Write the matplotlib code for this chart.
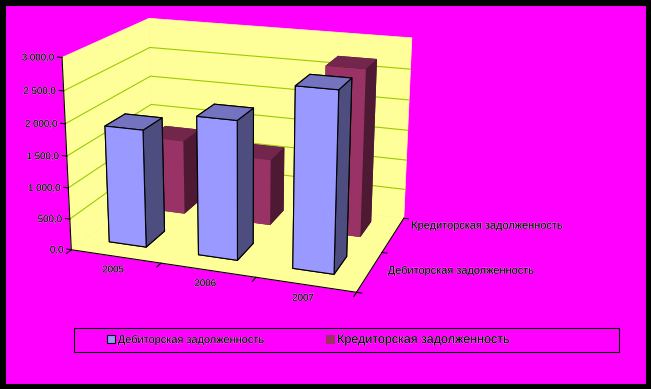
"""
plot.py

3D column chart of receivables and payables by year.
"""

import matplotlib

matplotlib.use("Agg")

import matplotlib.patheffects as pe
import matplotlib.pyplot as plt
from matplotlib.patches import Patch, Rectangle
from mpl_toolkits.mplot3d import proj3d
from mpl_toolkits.mplot3d.art3d import Poly3DCollection

years = ["2005", "2006", "2007"]
series_names = ["Дебиторская задолженность", "Кредиторская задолженность"]
debitor = [1870, 2170, 2760]
creditor = [1250, 1100, 2700]
z_ticks = [0, 500, 1000, 1500, 2000, 2500, 3000]
z_labels = ["0,0", "500,0", "1 000,0", "1 500,0", "2 000,0", "2 500,0", "3 000,0"]

MAGENTA = "#FF00FF"
WALL = "#FFFF99"
GRID = "#99CC00"
# bottom, top, front, back, left, right
DEBITOR_FACES = ["#4D4D80", "#7373BF", "#9999FF", "#4D4D80", "#4D4D80", "#4D4D80"]
CREDITOR_FACES = ["#4D1933", "#73264C", "#993366", "#4D1933", "#4D1933", "#4D1933"]

BAR_X = 0.27
BAR_Y = 0.32
BAR_W = 0.42
BAR_D = 0.46
FONT = ["Liberation Sans", "DejaVu Sans"]
HALO = [pe.withStroke(linewidth=0.3, foreground="white")]

plt.rcParams["font.family"] = FONT

W, H = 651, 389
fig = plt.figure(figsize=(W / 100, H / 100), dpi=100, facecolor=MAGENTA)

# black outer border
fig.add_artist(Rectangle((0, 0), 1, 1, transform=fig.transFigure, fill=False,
                         edgecolor="black", linewidth=8))

ax = fig.add_axes([43 / W, 46 / H, 390 / W, 390 / H], projection="3d",
                  computed_zorder=False)
ax.patch.set_alpha(0)
ax.set_proj_type("persp", focal_length=0.55)
ax.set_box_aspect((286, 194, 192))
ax.view_init(elev=17.5, azim=-70)
ax.set_xlim(0, 3)
ax.set_ylim(0, 2)
ax.set_zlim(0, 3000)
ax.set_axis_off()


def label_at(x, y, z, text, dx=0, dy=0, ha="center", size=7):
    """Put a 2D text next to a point of the 3D chart, offset in pixels."""
    px, py, _ = proj3d.proj_transform(x, y, z, ax.get_proj())
    ax.annotate(text, xy=(px, py), xytext=(dx * 0.72, dy * 0.72),
                textcoords="offset points", ha=ha, va="center", fontsize=size,
                path_effects=HALO, zorder=6)


# walls and floor
walls = [
    [(0, 0, 0), (3, 0, 0), (3, 2, 0), (0, 2, 0)],
    [(0, 0, 0), (0, 2, 0), (0, 2, 3000), (0, 0, 3000)],
    [(0, 2, 0), (3, 2, 0), (3, 2, 3000), (0, 2, 3000)],
]
ax.add_collection3d(Poly3DCollection(walls, facecolors=WALL, edgecolors=WALL,
                                     linewidths=0.5, zorder=1))

# gridlines on the two walls
for z in z_ticks[1:-1]:
    ax.plot([0, 0, 3], [0, 2, 2], [z, z, z], color=GRID, linewidth=0.8, zorder=2)

# axis lines and tick marks
ax.plot([0, 0], [0, 0], [0, 3000], color="black", linewidth=0.8, zorder=3)
ax.plot([0, 3, 3], [0, 0, 2], [0, 0, 0], color="black", linewidth=0.8, zorder=3)
for z in z_ticks:
    ax.plot([-0.05, 0], [0, 0], [z, z], color="black", linewidth=0.8, zorder=3)
for x in range(len(years) + 1):
    ax.plot([x, x], [-0.1, 0], [0, 0], color="black", linewidth=0.8, zorder=3)
for y in range(len(series_names) + 1):
    ax.plot([3, 3.05], [y, y], [0, 0], color="black", linewidth=0.8, zorder=3)

# columns, back row first
for i in range(len(years)):
    ax.bar3d(i + BAR_X, 1 + BAR_Y, 0, BAR_W, BAR_D, creditor[i], shade=False,
             color=CREDITOR_FACES, edgecolor="none", zorder=4)
for i in range(len(years)):
    ax.bar3d(i + BAR_X, BAR_Y, 0, BAR_W, BAR_D, debitor[i], shade=False,
             color=DEBITOR_FACES, edgecolor="black", linewidth=0.8, zorder=5)

# labels
for z, text in zip(z_ticks, z_labels):
    label_at(0, 0, z, text, dx=-8, ha="right")
for i, text in enumerate(years):
    label_at(i + 0.5, 0, 0, text, dx=-2.5, dy=-13)
for i, text in enumerate(series_names):
    label_at(3, i + 0.5, 0, text, dx=18, dy=1 + 8 * i, ha="left", size=7.9)

# legend
fig.add_artist(Rectangle((74 / W, 37 / H), 545 / W, 24 / H, transform=fig.transFigure,
                         fill=False, edgecolor="black", linewidth=0.8))
handles = [
    Patch(facecolor="#9999FF", edgecolor="black", linewidth=0.8),
    Patch(facecolor="#993366", edgecolor="#993366", linewidth=0.8),
]
leg = fig.legend(handles, series_names, ncol=2, frameon=False, loc="center left",
                 bbox_to_anchor=(97 / W, 49 / H), fontsize=7.9, handlelength=0.7,
                 handleheight=0.7, handletextpad=0.3, columnspacing=5.6)
leg.get_texts()[1].set_fontsize(9)
for text in leg.get_texts():
    text.set_path_effects(HALO)

fig.savefig("out.png", dpi=100, facecolor=fig.get_facecolor())
